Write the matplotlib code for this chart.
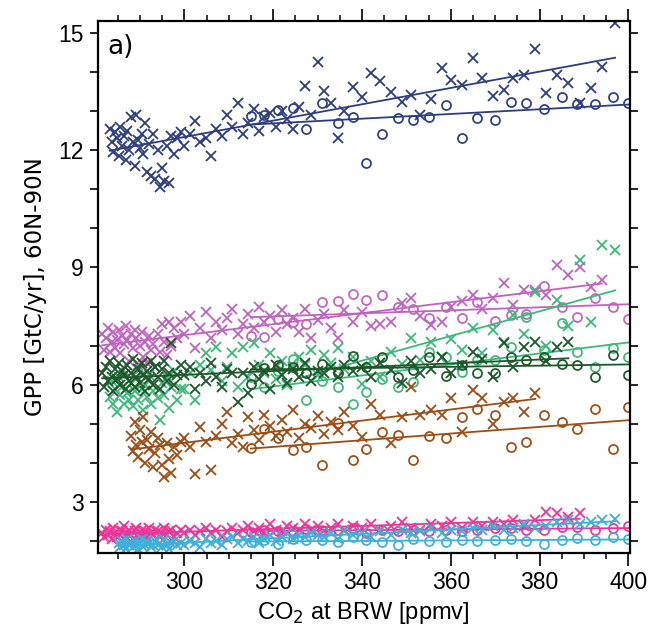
import numpy as np
import matplotlib
matplotlib.use("Agg")
import matplotlib.pyplot as plt
from matplotlib.ticker import MultipleLocator

# ---------------- data ----------------
# CO2 at BRW for the crosses
co2_x = [281.5, 282, 282.4, 282.8, 283.2, 283.6, 284, 284.4, 284.8, 285.2, 285.6, 286, 286.4, 286.8,
         287.2, 287.6, 288, 288.4, 288.8, 289.2, 289.6, 290, 290.4, 290.8, 291.2, 291.6, 292, 292.5,
         293, 293.5, 294, 294.5, 295, 295.5, 296, 296.5, 297, 297.7, 298.4, 299.2,
         300, 301.2, 302.4, 303.6, 304.8, 306, 307.2, 308.4, 309.6, 310.8, 312, 313.2, 314.4, 315.6,
         316.8, 318, 319.3, 320.6, 321.9, 323.2, 324.5, 325.8, 327.1, 328.5, 330, 331.5, 333, 334.5,
         336, 338,
         340, 342, 344, 346.5, 349, 351, 353, 355.5, 358, 360, 362.5, 365, 367, 369.5, 372,
         374, 376.5, 379, 381.5, 384, 386.5, 389, 391.5, 394, 397]
# CO2 at BRW for the circles
co2_o = [315, 318, 321, 324.5, 327.5, 331, 334.5, 338, 341, 344.5, 348, 351.5, 355, 359, 362.5,
         366, 370, 373.5, 377, 381, 385, 388.5, 392.5, 396.5, 400]

# first index into co2_x for each series' crosses
navy_start = 4
magenta_start = 0
green_start = 4
dkgreen_start = 0
brown_start = 16
pink_start = 0
blue_start = 9

navy_x = [12.55, 12.2, 11.95, 12.45, 12.3, 11.85, 12.6, 12.1, 12.35, 11.75, 12.5, 12.0, 12.85, 12.2,
          11.6, 12.9, 12.25, 12.05, 12.4, 11.9, 12.7, 11.45, 12.15, 11.35, 12.4, 11.25, 12.0, 11.05,
          11.55, 11.2, 12.1, 11.15, 12.35, 11.9, 12.3, 12.45,
          12.1, 12.4, 12.75, 12.2, 12.3, 11.85, 12.55, 12.35, 12.9, 12.6, 13.2, 12.4, 12.7, 13.05,
          12.5, 12.85, 12.95, 12.6, 13.0, 12.8, 12.55, 13.1, 13.65, 12.9, 14.25, 13.5, 13.2, 12.3,
          13.0, 13.6,
          13.35, 13.96, 13.77, 13.49, 13.24, 13.41, 12.9, 13.3, 14.09, 13.79, 13.66, 14.35, 13.83,
          13.38, 13.53, 13.84, 13.92, 14.58, 13.46, 13.92, 13.71, 13.2, 13.59, 14.13, 15.24]
navy_o = [12.87, 12.9, 13.02, 13.08, 12.55, 13.21, 12.68, 12.85, 11.67, 12.41, 12.81, 12.77, 12.85,
          13.15, 12.3, 12.81, 12.78, 13.24, 13.21, 13.04, 13.35, 13.17, 13.19, 13.36, 13.21]

magenta_x = [7.3, 6.9, 7.2, 7.45, 6.85, 7.1, 7.35, 6.95, 7.15, 7.4, 6.8, 7.25, 7.05, 7.5, 7.15, 6.6,
             7.3, 6.95, 7.4, 7.2, 6.5, 7.0, 7.35, 6.7, 7.1, 6.55, 7.25, 6.9, 7.05, 6.45, 7.3, 6.85,
             7.55, 7.1, 6.75, 7.6, 7.0, 7.45, 7.2, 7.6,
             7.3, 7.75, 6.95, 7.45, 7.85, 7.2, 7.6, 7.4, 7.7, 7.95, 7.3, 7.55, 7.8, 7.45, 8.0, 7.6,
             7.75, 7.35, 7.9, 7.55, 7.7, 7.35, 7.95, 7.2, 7.65, 7.8, 7.45, 7.19, 7.9, 7.6,
             7.85, 7.5, 7.55, 7.6, 8.08, 8.21, 7.75, 7.52, 7.61, 8.0, 8.15, 8.29, 7.95, 8.21, 8.59,
             8.04, 8.42, 8.42, 8.3, 9.06, 8.8, 9.01, 8.5, 8.68]
magenta_o = [7.24, 7.22, 7.69, 7.61, 7.55, 8.12, 8.15, 8.33, 8.16, 8.29, 7.98, 7.95, 7.72, 7.98,
             7.72, 8.12, 7.63, 7.78, 7.82, 8.52, 7.98, 7.74, 8.21, 8.0, 7.69]

green_x = [5.7, 6.1, 5.5, 5.9, 5.3, 6.2, 5.75, 5.95, 5.5, 6.3, 5.8, 5.6, 6.05, 5.45, 5.85, 6.15, 5.6,
           6.4, 5.9, 5.35, 6.0, 5.7, 6.25, 5.5, 5.85, 6.45, 5.65, 5.1, 6.05, 5.75, 6.2, 5.4, 5.95,
           6.35, 5.6, 5.9,
           5.9, 6.3, 5.6, 6.5, 6.8, 6.37, 6.97, 6.1, 6.46, 6.8, 5.95, 6.97, 6.2, 7.06, 6.5, 6.3, 6.8,
           6.15, 6.6, 6.0, 6.45, 6.7, 6.5, 6.9, 6.25, 6.75, 6.55, 6.95, 6.4, 6.7,
           6.03, 6.6, 6.2, 6.85, 6.54, 7.2, 6.63, 7.1, 6.7, 7.18, 6.9, 7.44, 6.8, 7.4, 7.1, 7.78,
           7.3, 8.38, 7.0, 8.16, 7.5, 9.19, 7.6, 9.57, 9.44]
green_fit_from = 325
green_o = [6.2, 5.95, 6.35, 6.67, 5.61, 6.1, 5.95, 5.52, 5.82, 6.16, 5.95, 6.07, 6.84, 6.71, 6.33,
           6.63, 6.63, 6.97, 7.74, 6.88, 7.57, 6.84, 6.46, 6.95, 6.71]

dkgreen_x = [6.3, 5.95, 6.45, 6.1, 6.6, 6.2, 5.85, 6.4, 6.15, 6.55, 6.0, 6.35, 6.25, 5.9, 6.5, 6.1,
             6.3, 6.65, 5.95, 6.2, 6.4, 6.05, 6.55, 6.25, 5.85, 6.35, 6.15, 6.6, 6.0, 6.45, 6.2, 5.9,
             6.4, 6.6, 6.1, 6.3, 7.06, 6.0, 6.25, 6.5,
             6.25, 6.45, 5.9, 6.3, 6.1, 6.55, 6.2, 5.95, 6.4, 6.3, 5.56, 6.3, 5.78, 6.45, 6.15, 6.35,
             5.9, 6.5, 6.25, 6.05, 6.4, 6.2, 6.55, 6.1, 6.35, 6.3, 6.45, 6.2, 6.5, 6.35,
             6.45, 6.2, 6.55, 6.37, 6.05, 6.6, 6.29, 6.4, 6.71, 6.29, 6.5, 6.85, 6.67, 6.2, 7.06,
             6.45, 6.97, 7.1, 6.6, 6.97, 7.1]
dkgreen_o = [6.03, 6.42, 6.5, 6.46, 6.29, 6.54, 6.29, 6.73, 6.46, 6.71, 6.19, 6.37, 6.71, 6.22, 6.5,
             6.3, 6.29, 6.71, 6.63, 6.71, 6.54, 6.5, 6.2, 6.76, 6.25]

brown_x = [4.7, 4.3, 5.05, 4.45, 4.15, 4.85, 4.55, 5.18, 4.0, 4.6, 4.35, 4.8, 3.9, 4.25, 4.65, 4.45,
           3.95, 3.64, 4.5, 4.1, 3.75, 4.4, 4.2, 4.55,
           4.65, 4.4, 3.73, 4.92, 4.55, 3.82, 4.7, 5.01, 5.31, 4.5, 4.75, 4.4, 5.18, 4.85, 4.6, 5.22,
           4.95, 4.7, 5.1, 4.8, 5.35, 4.65, 5.0, 4.9, 5.2, 4.75, 5.05, 4.85, 5.3, 4.95,
           4.67, 5.52, 5.22, 4.5, 5.18, 5.95, 5.22, 5.35, 5.22, 5.65, 4.8, 5.86, 5.65, 5.01, 5.56,
           5.65, 5.31, 5.78]
brown_o = [4.38, 4.86, 4.63, 4.33, 4.41, 3.94, 5.02, 4.07, 4.37, 4.8, 4.71, 4.07, 4.69, 4.63, 5.18,
           5.39, 5.22, 4.41, 4.54, 5.22, 5.05, 4.88, 5.39, 4.37, 5.43]

pink_x = [2.2, 2.1, 2.3, 2.15, 2.25, 2.05, 2.35, 2.2, 2.1, 2.3, 2.15, 2.25, 2.4, 2.1, 2.2, 2.3, 2.15,
          2.05, 2.25, 2.35, 2.1, 2.2, 2.3, 2.15, 2.25, 2.1, 2.35, 2.2, 2.15, 2.3, 2.25, 2.1, 2.2,
          2.35, 2.15, 2.25, 2.3, 2.1, 2.2, 2.3,
          2.2, 2.3, 2.15, 2.25, 2.35, 2.2, 2.3, 2.1, 2.25, 2.35, 2.2, 2.3, 2.4, 2.25, 2.35, 2.2, 2.45,
          2.3, 2.25, 2.4, 2.35, 2.3, 2.45, 2.3, 2.4, 2.25, 2.35, 2.45, 2.3, 2.4,
          2.35, 2.45, 2.3, 2.4, 2.49, 2.35, 2.3, 2.45, 2.4, 2.49, 2.35, 2.49, 2.4, 2.5, 2.45, 2.55,
          2.4, 2.54, 2.75, 2.71, 2.62, 2.71]
pink_o = [2.24, 2.3, 2.25, 2.26, 2.32, 2.28, 2.3, 2.35, 2.22, 2.3, 2.25, 2.28, 2.27, 2.3, 2.27, 2.3,
          2.33, 2.33, 2.3, 2.28, 2.36, 2.36, 2.28, 2.33, 2.39]

blue_x = [1.95, 1.85, 2.0, 1.9, 1.8, 2.05, 1.9, 1.95, 1.85, 2.0, 1.9, 1.8, 1.95, 2.05, 1.85, 1.9, 2.0,
          1.95, 1.85, 1.9, 2.0, 1.9, 1.95, 1.85, 2.05, 1.9, 1.8, 1.95, 2.0, 1.9, 1.95,
          1.9, 2.0, 1.95, 1.85, 2.05, 1.95, 2.0, 1.9, 2.05, 2.1, 1.95, 2.05, 2.0, 2.1, 1.95, 2.05,
          2.15, 2.0, 2.1, 2.2, 2.05, 2.15, 2.1, 2.2, 2.15, 2.1, 2.2, 2.05, 2.25, 2.15,
          2.2, 2.1, 2.25, 2.15, 2.3, 2.2, 2.25, 2.35, 2.2, 2.3, 2.25, 2.35, 2.3, 2.4, 2.3, 2.35,
          2.45, 2.35, 2.4, 2.5, 2.54, 2.45, 2.49, 2.55, 2.58]
blue_o = [1.98, 2.02, 1.93, 2.07, 2.02, 2.02, 1.98, 2.11, 2.02, 1.98, 1.9, 2.07, 2.01, 1.98, 2.04,
          2.01, 2.02, 2.07, 2.0, 1.92, 2.04, 2.09, 2.02, 2.11, 2.07]

x_ticks = [300, 320, 340, 360, 380, 400]
y_ticks = [3, 6, 9, 12, 15]

# ---------------- plot ----------------
series = [
    ("#2c3d80", navy_x, navy_start, navy_o, None),
    ("#c062c2", magenta_x, magenta_start, magenta_o, None),
    ("#3cb878", green_x, green_start, green_o, green_fit_from),
    ("#1d5629", dkgreen_x, dkgreen_start, dkgreen_o, None),
    ("#9c4c14", brown_x, brown_start, brown_o, None),
    ("#ee3399", pink_x, pink_start, pink_o, None),
    ("#3cb0da", blue_x, blue_start, blue_o, None),
]

fig = plt.figure(figsize=(6.56, 6.36), dpi=100)
ax = fig.add_axes([0.149, 0.1305, 0.811, 0.8365])

for color, ys, i0, yo, fit_from in series:
    xs = np.array(co2_x[i0:i0 + len(ys)])
    ys = np.array(ys)
    ax.plot(xs, ys, linestyle="none", marker="x", ms=7.2, mew=1.3, color=color)
    ax.plot(co2_o, yo, linestyle="none", marker="o", ms=6.5, mew=1.25,
            mfc="none", mec=color)
    # regression of crosses
    m = xs >= (fit_from if fit_from is not None else xs.min())
    p = np.polyfit(xs[m], ys[m], 1)
    xl = np.array([xs[m].min(), xs[m].max()])
    ax.plot(xl, np.polyval(p, xl), color=color, lw=1.3)
    # regression of circles
    xo = np.array(co2_o)
    p2 = np.polyfit(xo, np.array(yo), 1)
    xl2 = np.array([xo.min(), xo.max()])
    ax.plot(xl2, np.polyval(p2, xl2), color=color, lw=1.3)

ax.set_xlim(280.5, 400.3)
ax.set_ylim(1.7, 15.3)
ax.set_xticks(x_ticks)
ax.set_yticks(y_ticks)
ax.xaxis.set_minor_locator(MultipleLocator(5))
ax.yaxis.set_minor_locator(MultipleLocator(1))
ax.tick_params(axis="x", which="major", direction="out", length=9, width=1.2,
               top=True, labelsize=16.5, pad=4)
ax.tick_params(axis="x", which="minor", direction="out", length=4.5, width=1.1, top=True)
ax.tick_params(axis="y", which="both", direction="out", length=6, width=1.2, right=True)
ax.tick_params(axis="y", which="major", labelsize=16.5, pad=4)
for lab in ax.get_xticklabels() + ax.get_yticklabels():
    lab.set_fontfamily("Liberation Sans")
for s in ax.spines.values():
    s.set_linewidth(1.6)

ax.set_xlabel("CO$_2$ at BRW [ppmv]", fontsize=17, family="Liberation Sans", labelpad=4)
ax.set_ylabel("GPP [GtC/yr], 60N-90N", fontsize=16.5, family="DejaVu Sans", labelpad=8)
ax.text(0.018, 0.975, "a)", transform=ax.transAxes, fontsize=19, va="top", ha="left",
        family="DejaVu Sans")

fig.savefig("out.png", dpi=100)
